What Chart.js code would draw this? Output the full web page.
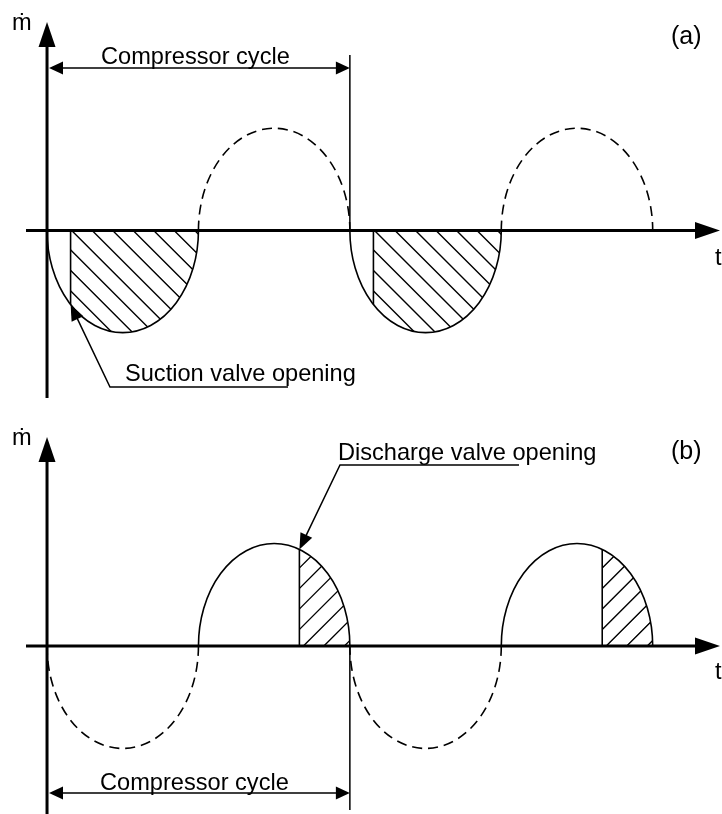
<!DOCTYPE html>
<html>
<head>
<meta charset="utf-8">
<title>Compressor valve mass flow</title>
<script src="https://cdn.jsdelivr.net/npm/chart.js@4.4.1/dist/chart.umd.min.js"></script>
<style>
  html, body { margin: 0; padding: 0; background: #fff; }
  #wrap { position: relative; width: 722px; height: 814px; }
  .panel { position: absolute; left: 0; width: 722px; }
  #pa { top: 0; height: 400px; }
  #pb { top: 400px; height: 414px; }
</style>
</head>
<body>
<div id="wrap">
  <div class="panel" id="pa"><canvas id="ca"></canvas></div>
  <div class="panel" id="pb"><canvas id="cb"></canvas></div>
</div>
<script>
// Crank angle (degrees) at the zero crossings bounding each half-wave
const halfWaveStart = [0, 180, 360, 540];
const halfWaveEnd   = [180, 360, 540, 720];
// Normalised peak mass flow of each half-wave
const halfWavePeak  = [-1, 1, -1, 1];
// Half-waves during which flow passes through the valve of each panel
const suctionFlowing   = [true, false, true, false];
const dischargeFlowing = [false, true, false, true];
// Valve open windows (crank angle, degrees)
const suctionOpen    = [28, 388];
const suctionClose   = [180, 540];
const dischargeOpen  = [300, 660];
const dischargeClose = [360, 720];
// One compressor cycle
const cycleBounds = [0, 360];
// Labels
const massFlowLabel  = 'ṁ';
const timeLabel      = 't';
const cycleLabel     = 'Compressor cycle';
const suctionLabel   = 'Suction valve opening';
const dischargeLabel = 'Discharge valve opening';
const panelTags      = ['(a)', '(b)'];

const FONT = '23.6px "Liberation Sans", Arial, Helvetica, sans-serif';
const TAG_FONT = '25px "Liberation Sans", Arial, Helvetica, sans-serif';

function arrowHead(ctx, tx, ty, dx, dy, len, half) {
  const n = Math.hypot(dx, dy); dx /= n; dy /= n;
  const bx = tx - dx * len, by = ty - dy * len;
  ctx.beginPath();
  ctx.moveTo(tx, ty);
  ctx.lineTo(bx - dy * half, by + dx * half);
  ctx.lineTo(bx + dy * half, by - dx * half);
  ctx.closePath();
  ctx.fill();
}

// Half-ellipse described by the three scaled points of a half-wave dataset
function waveShape(meta) {
  const [p0, p1, p2] = meta.data;
  return {
    cx: (p0.x + p2.x) / 2, cy: p0.y,
    rx: (p2.x - p0.x) / 2, ry: Math.abs(p1.y - p0.y),
    up: p1.y < p0.y, left: p0.x, right: p2.x
  };
}
function traceWave(ctx, s) {
  if (s.up) ctx.ellipse(s.cx, s.cy, s.rx, s.ry, 0, Math.PI, 2 * Math.PI);
  else ctx.ellipse(s.cx, s.cy, s.rx, s.ry, 0, 0, Math.PI);
}
function waveY(s, px) {
  const u = (px - s.cx) / s.rx;
  const d = s.ry * Math.sqrt(Math.max(0, 1 - u * u));
  return s.up ? s.cy - d : s.cy + d;
}

const schematic = {
  id: 'schematic',
  afterDatasetsDraw(chart, args, o) {
    const { ctx, chartArea: a, scales: { x, y } } = chart;
    const y0 = y.getPixelForValue(0);
    const x0 = x.getPixelForValue(0);
    const shapes = chart.data.datasets.map((ds, i) => waveShape(chart.getDatasetMeta(i)));

    ctx.save();
    ctx.strokeStyle = '#000';
    ctx.fillStyle = '#000';

    // hatched valve-open areas
    o.open.forEach((t0, k) => {
      const xa = x.getPixelForValue(t0);
      const xb = x.getPixelForValue(o.close[k]);
      const s = shapes.find(w => xa >= w.left - 0.5 && xa < w.right);
      ctx.save();
      ctx.beginPath(); traceWave(ctx, s); ctx.closePath(); ctx.clip();
      ctx.beginPath(); ctx.rect(xa, 0, xb - xa, chart.height); ctx.clip();
      ctx.lineWidth = 1.4;
      ctx.beginPath();
      const h = 300;
      for (let j = -20; j < 20; j++) {
        const bx = xa + o.hatchPhase + j * o.hatchStep;
        ctx.moveTo(bx - h, s.cy - o.hatchDir * h);
        ctx.lineTo(bx + h, s.cy + o.hatchDir * h);
      }
      ctx.stroke();
      ctx.restore();
      ctx.lineWidth = 1.6;
      ctx.beginPath();
      ctx.moveTo(xa, s.cy);
      ctx.lineTo(xa, waveY(s, xa));
      ctx.stroke();
    });

    // half-waves: solid while the valve carries flow, dashed otherwise
    shapes.forEach((s, i) => {
      ctx.lineWidth = 1.6;
      ctx.setLineDash(o.flowing[i] ? [] : [10, 6]);
      ctx.beginPath(); traceWave(ctx, s); ctx.stroke();
    });
    ctx.setLineDash([]);

    // axes with arrowheads
    ctx.lineWidth = 3;
    ctx.beginPath();
    ctx.moveTo(a.left, y0); ctx.lineTo(a.right - 20, y0);
    ctx.moveTo(x0, a.bottom); ctx.lineTo(x0, a.top + 20);
    ctx.stroke();
    arrowHead(ctx, a.right, y0, 1, 0, 25, 8.5);
    arrowHead(ctx, x0, a.top, 0, -1, 25, 8.5);

    // compressor cycle dimension
    const c0 = x.getPixelForValue(cycleBounds[0]);
    const c1 = x.getPixelForValue(cycleBounds[1]);
    ctx.lineWidth = 1.5;
    ctx.beginPath();
    ctx.moveTo(c1, o.extTop ?? y0);
    ctx.lineTo(c1, o.extBottom ?? y0);
    ctx.moveTo(c0 + 10, o.dimY);
    ctx.lineTo(c1 - 10, o.dimY);
    ctx.stroke();
    arrowHead(ctx, c0 + 2, o.dimY, -1, 0, 14, 6.5);
    arrowHead(ctx, c1, o.dimY, 1, 0, 14, 6.5);

    // leader to the valve opening point
    const tipX = x.getPixelForValue(o.open[0]);
    const tipS = shapes.find(w => tipX >= w.left && tipX < w.right);
    const tipY = waveY(tipS, tipX);
    const [p1, p2] = o.leader;
    ctx.lineWidth = 1.5;
    ctx.beginPath();
    const dx = p1[0] - tipX, dy = p1[1] - tipY, n = Math.hypot(dx, dy);
    ctx.moveTo(tipX + dx / n * 12, tipY + dy / n * 12);
    ctx.lineTo(p1[0], p1[1]);
    ctx.lineTo(p2[0], p2[1]);
    ctx.stroke();
    arrowHead(ctx, tipX, tipY, -dx, -dy, 16, 6.5);

    // text
    ctx.font = FONT;
    ctx.textBaseline = 'alphabetic';
    ctx.textAlign = 'left';
    ctx.fillText(cycleLabel, o.cycleText[0], o.cycleText[1]);
    ctx.fillText(o.label, o.labelPos[0], o.labelPos[1]);
    ctx.fillText(massFlowLabel, o.mPos[0], o.mPos[1]);
    ctx.fillText(timeLabel, o.tPos[0], o.tPos[1]);
    ctx.font = TAG_FONT;
    ctx.fillText(o.tag, o.tagPos[0], o.tagPos[1]);
    ctx.restore();
  }
};

function waveDatasets() {
  return halfWaveStart.map((t0, i) => ({
    label: 'half-wave ' + (i + 1),
    data: [
      { x: t0, y: 0 },
      { x: (t0 + halfWaveEnd[i]) / 2, y: halfWavePeak[i] },
      { x: halfWaveEnd[i], y: 0 }
    ],
    showLine: false,
    pointRadius: 0,
    pointHoverRadius: 0
  }));
}

function makePanel(canvasId, padTop, padBottom, panel) {
  return new Chart(document.getElementById(canvasId), {
    type: 'scatter',
    data: { datasets: waveDatasets() },
    options: {
      responsive: true,
      maintainAspectRatio: false,
      animation: false,
      events: [],
      layout: { padding: { left: 26, right: 2, top: padTop, bottom: padBottom } },
      scales: {
        x: { type: 'linear', min: -25, max: 800, display: false },
        y: { type: 'linear', min: -1.64, max: 2.04, display: false }
      },
      plugins: {
        legend: { display: false },
        tooltip: { enabled: false },
        schematic: panel
      }
    },
    plugins: [schematic]
  });
}

makePanel('ca', 22, 2, {
  flowing: suctionFlowing, open: suctionOpen, close: suctionClose,
  hatchDir: 1, hatchPhase: 1, hatchStep: 20.5,
  dimY: 68, extTop: 55, extBottom: null,
  cycleText: [101, 64],
  leader: [[110, 387], [288, 387]],
  label: suctionLabel, labelPos: [125, 381],
  mPos: [12, 30], tPos: [715, 265], tag: panelTags[0], tagPos: [671, 44]
});

makePanel('cb', 37, 0, {
  flowing: dischargeFlowing, open: dischargeOpen, close: dischargeClose,
  hatchDir: -1, hatchPhase: 4, hatchStep: 20.5,
  dimY: 393, extTop: null, extBottom: 410,
  cycleText: [100, 390],
  leader: [[340, 65], [519, 65]],
  label: dischargeLabel, labelPos: [338, 60],
  mPos: [12, 45], tPos: [715, 279], tag: panelTags[1], tagPos: [671, 59]
});
</script>
</body>
</html>
